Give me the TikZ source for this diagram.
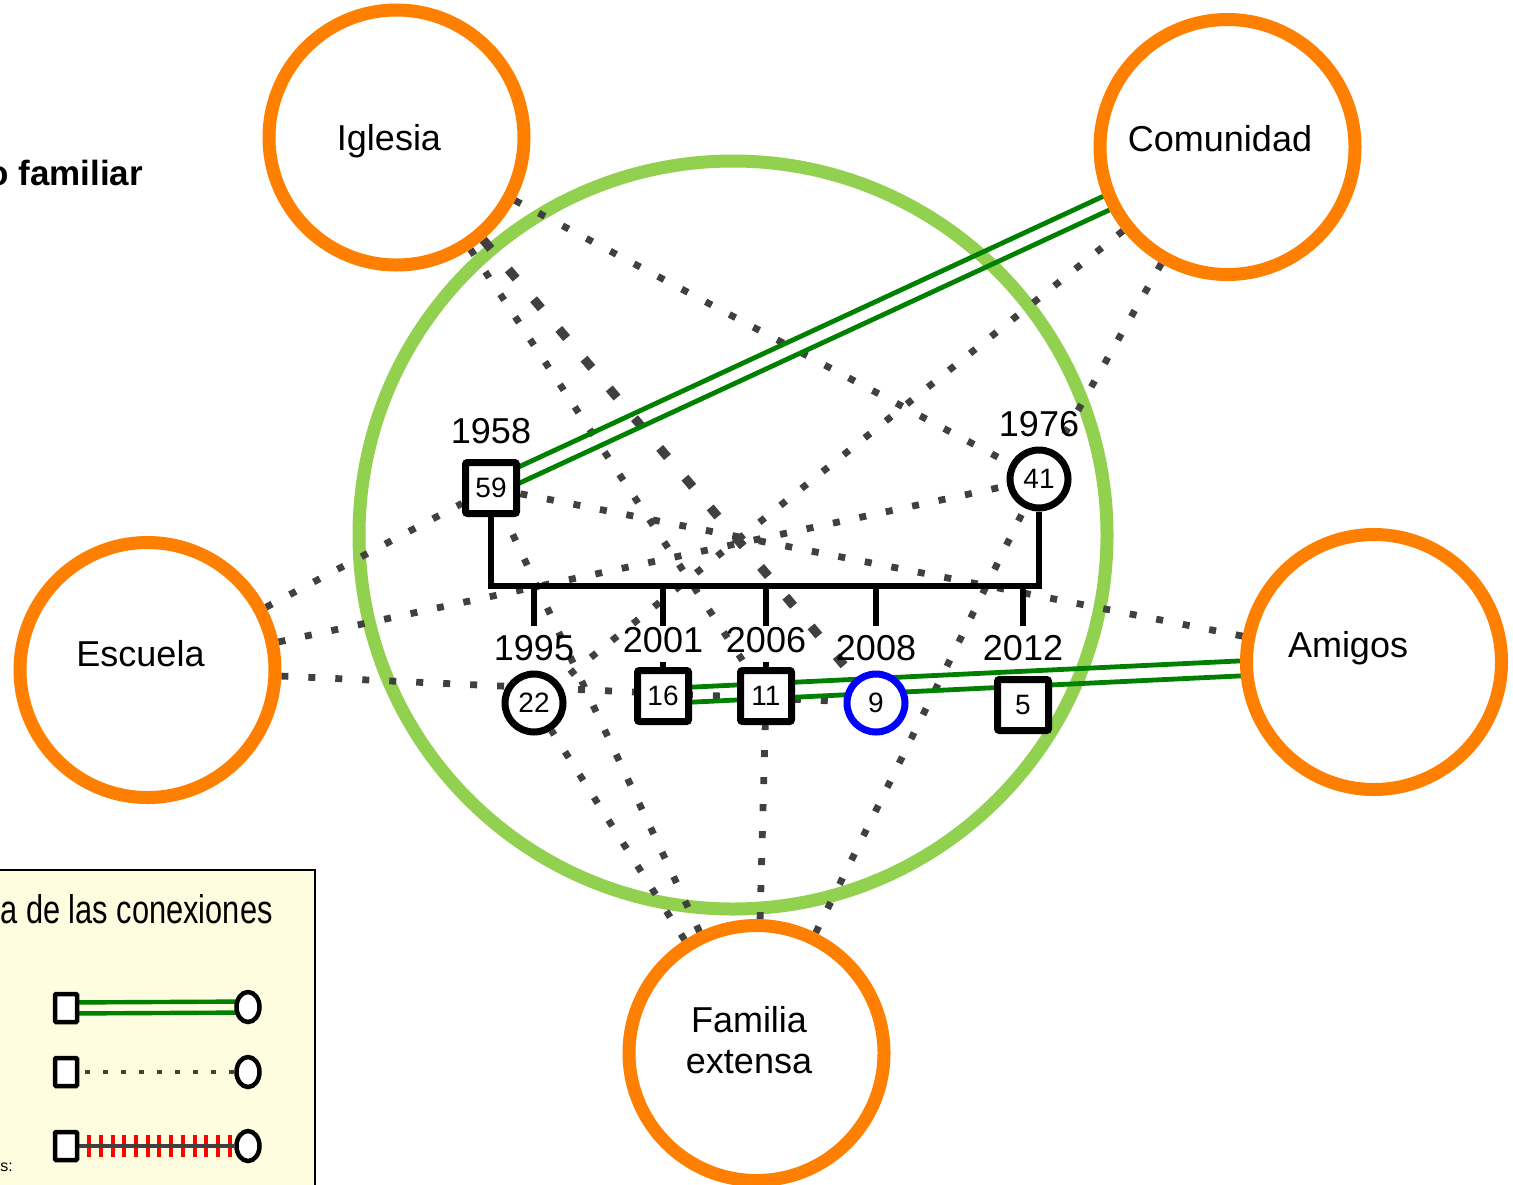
\documentclass[tikz,border=0pt]{standalone}
\usepackage{fontspec}
\setmainfont{Liberation Sans}
\usepackage{xcolor}
\definecolor{corange}{RGB}{255,128,0}
\definecolor{clgreen}{RGB}{146,208,80}
\definecolor{cdgreen}{RGB}{0,128,0}
\definecolor{cdot}{RGB}{64,64,64}
\definecolor{clegend}{RGB}{255,253,224}
\usepackage{tikz}
\usetikzlibrary{calc, backgrounds, shapes.geometric}
\tikzset{
Person/.style={
	draw=black, line width=3.5pt,
	fill=white, inner sep=0pt,
	font=\fontsize{14}{14}\selectfont
},
Male/.style={
	Person, rectangle,
	rounded corners=1pt,
	minimum size=25.5pt
},
Female/.style={
	Person, circle,
	minimum size=29pt
},
IndexFemale/.style={
	Female,
	draw=blue
},
Ext/.style={
	draw=corange, circle,
	line width=6.5pt, fill=white,
	minimum size=127.5pt, inner sep=0pt
},
ExtText/.style={
	font=\fontsize{18}{20.5}\selectfont,
	align=center, inner sep=0pt
},
Year/.style={
	font=\fontsize{18}{18}\selectfont,
	text=black, inner sep=0pt
},
Home/.style={
	draw=clgreen, circle,
	line width=6.5pt,
	minimum size=374pt, inner sep=0pt
},
Weak/.style={
	draw=cdot, line width=3.4pt,
	dash pattern=on 3.5pt off 10pt
},
WeakWide/.style={
	draw=cdot, line width=4.5pt,
	dash pattern=on 6pt off 13.5pt
},
Strong/.style={
	draw=cdgreen, line width=2.4pt
},
Family/.style={
	draw=black, line width=3pt
},
LMale/.style={
	draw=black, line width=2.25pt, fill=white,
	rectangle, rounded corners=0.5pt,
	minimum width=11pt, minimum height=14pt, inner sep=0pt
},
LFemale/.style={
	draw=black, line width=2.25pt, fill=white,
	ellipse, minimum width=11.5pt, minimum height=15pt, inner sep=0pt
},
LStrong/.style={
	draw=cdgreen, line width=2.2pt
},
LWeak/.style={
	draw=cdot, line width=2.25pt,
	dash pattern=on 2.25pt off 6.75pt,
	shorten <=3pt
},
LHostileTick/.style={
	draw=red, line width=11pt,
	dash pattern=on 2pt off 3.85pt,
	shorten <=4pt
},
LHostile/.style={
	draw=cdot, line width=2.25pt
}
}

\begin{document}
\begin{tikzpicture}[x=0.5pt, y=-0.5pt]
	\useasboundingbox (0,0) rectangle (1513,1184);

	% outside systems
	\node[Ext, label={[ExtText, xshift=-3.75pt, yshift=-2pt]center:Iglesia}] (ig) at (396.5,137.5) {};
	\node[Ext, label={[ExtText, xshift=-3.75pt, yshift=4.25pt]center:Comunidad}] (com) at (1227.5,147) {};
	\node[Ext, label={[ExtText, xshift=-3.5pt, yshift=8.25pt]center:Escuela}] (esc) at (147.5,670) {};
	\node[Ext, label={[ExtText, xshift=-13pt, yshift=6.75pt]center:Amigos}] (ami) at (1374,662) {};
	\node[Ext, label={[ExtText, xshift=-3.75pt, yshift=6.25pt]center:Familia\\extensa}] (fam) at (756.5,1053) {};

	% family
	\node[Male, label={[Year, label distance=7.5pt]above:1958}] (p59) at (491,488) {59};
	\node[Female, label={[Year, label distance=4.5pt]above:1976}] (p41) at (1039,479) {41};
	\node[Female, label={[Year, label distance=4.5pt]above:1995}] (p22) at (534,703) {22};
	\node[Male, label={[Year, label distance=7pt]above:2001}] (p16) at (663,696) {16};
	\node[Male, label={[Year, label distance=7pt]above:2006}] (p11) at (766,696) {11};
	\node[IndexFemale, label={[Year, label distance=4.5pt]above:2008}] (p9) at (876,703) {9};
	\node[Male, label={[Year, label distance=7.5pt]above:2012}] (p5) at (1023,705) {5};

	\coordinate (bar) at (0,586);
	\coordinate (drop) at (0,626);

	% title and legend
	\node[anchor=base west, inner sep=0pt, font=\bfseries\fontsize{17.5}{17.5}\selectfont] (title) at (-13,185) {o familiar};
	\node[anchor=base west, inner sep=0pt, font=\fontsize{20}{20}\selectfont] (legtitle) at (0,923) {\scalebox{0.77}[1]{a de las conexiones}};
	\node[anchor=base west, inner sep=0pt, font=\fontsize{8}{8}\selectfont] (legnote) at (0,1171) {s:};

	\node[LMale] (lm1) at (66,1008) {};
	\node[LFemale] (lf1) at (248,1007) {};
	\node[LMale] (lm2) at (66,1072) {};
	\node[LFemale] (lf2) at (248,1072) {};
	\node[LMale] (lm3) at (66,1146) {};
	\node[LFemale] (lf3) at (248,1146) {};

	\begin{scope}[on background layer]
		\node[Home] (home) at (733,535) {};
		\draw[fill=clegend, line width=1pt] (-10,870) rectangle (315,1200);

		% weak ties
		\draw[Weak] (ig) -- (p41);
		\draw[WeakWide] (ig) -- (p9);
		\draw[Weak] (ig) -- (p11);
		\draw[Weak] (com) -- (p22);
		\draw[Weak] (com) -- (p41);
		\draw[Weak] (esc) -- (p59);
		\draw[Weak] (esc) -- (p41);
		\draw[Weak] (esc) -- (p9);
		\draw[Weak] (ami) -- (p59);
		\draw[Weak] (fam) -- (p59);
		\draw[Weak] (fam) -- (p22);
		\draw[Weak] (fam) -- (p11);
		\draw[Weak] (fam) -- (p41);

		% strong ties
		\draw[Strong] ($(p59.center)!3.75pt!90:(com.center)$) -- ($(com.center)!3.75pt!-90:(p59.center)$);
		\draw[Strong] ($(p59.center)!3.75pt!-90:(com.center)$) -- ($(com.center)!3.75pt!90:(p59.center)$);
		\draw[Strong] ($(p16.center)!3.75pt!90:(ami.center)$) -- ($(ami.center)!3.75pt!-90:(p16.center)$);
		\draw[Strong] ($(p16.center)!3.75pt!-90:(ami.center)$) -- ($(ami.center)!3.75pt!90:(p16.center)$);

		% couple and children
		\draw[Family] (p59.south) -- (p59.south |- bar) -- (p41.south |- bar) -- (p41.south);
		\foreach \c in {p22,p16,p11,p9,p5}
			\draw[Family] (\c |- bar) -- (\c |- drop);
		\draw[Family] (p16.north) -- ++(0,-5);
		\draw[Family] (p11.north) -- ++(0,-5);

		% legend lines
		\draw[LStrong] ($(lm1.center)!2.75pt!90:(lf1.center)$) -- ($(lf1.center)!2.75pt!-90:(lm1.center)$);
		\draw[LStrong] ($(lm1.center)!2.75pt!-90:(lf1.center)$) -- ($(lf1.center)!2.75pt!90:(lm1.center)$);
		\draw[LWeak] (lm2) -- (lf2);
		\draw[LHostileTick] (lm3) -- (lf3);
		\draw[LHostile] (lm3) -- (lf3);
	\end{scope}
\end{tikzpicture}
\end{document}
